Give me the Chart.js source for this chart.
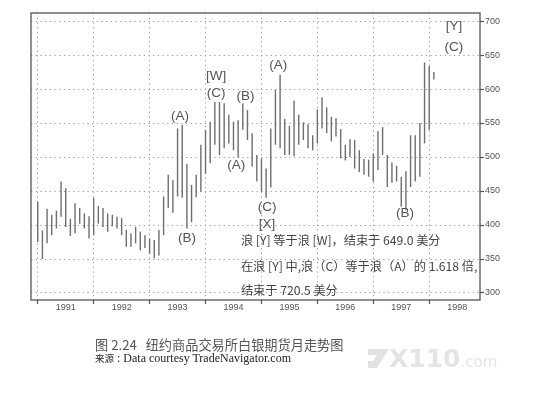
<!DOCTYPE html>
<html lang="zh">
<head>
    <meta charset="UTF-8">
    <title>纽约商品交易所白银期货月走势图</title>
    <script src="https://cdn.jsdelivr.net/npm/chart.js"></script>
    <style>
        body{
            margin: 0;
            background: #fff;
        }
        #wrap{
            position: relative;
            width: 537px;
            height: 403px;
            overflow: hidden;
        }
        #silverChart{
            position: absolute;
            left: 0;
            top: 0;
        }
        .caption{
            position: absolute;
            left: 95px;
            top: 338px;
            font: 13.2px/14px "Noto Sans CJK SC", sans-serif;
            color: #555;
            white-space: nowrap;
        }
        .source{
            position: absolute;
            left: 95px;
            top: 352px;
            font: 12px/12px "Liberation Serif", serif;
            color: #222;
            white-space: nowrap;
        }
        .source .cn{
            font: 9.5px/12px "Noto Sans CJK SC", sans-serif;
        }
        .mark{
            position: absolute;
            left: 368px;
            top: 345px;
            color: #e4e4e4;
            white-space: nowrap;
            font: bold 25px/28px "DejaVu Sans", sans-serif;
        }
        .mark .com{
            font: 15px "DejaVu Sans", sans-serif;
            color: #e6e6e6;
        }
    </style>
</head>
<body>
<div id="wrap">
    <canvas id="silverChart" width="537" height="403"></canvas>
    <div class="caption">图 2.24&nbsp;&nbsp;&nbsp;纽约商品交易所白银期货月走势图</div>
    <div class="source"><span class="cn">来源</span>&nbsp;: Data courtesy TradeNavigator.com</div>
    <div class="mark"><svg width="21" height="19" style="vertical-align:-1px"><polygon points="0,0 21,0 9,19 0,19 0,12 5,12 9,6 0,6" fill="#e2e2e2"/></svg>X110<span class="com">.com</span></div>
</div>

<script>
    // monthly bars, index 0 = Jan 1991 (values in cents)
    const highs = [434, 392, 424, 415, 421, 464, 454, 409, 432, 425, 417, 413,
                   440, 428, 425, 417, 415, 412, 410, 393, 388, 397, 390, 385,
                   380, 378, 393, 442, 474, 466, 542, 547, 490, 459, 474, 518,
                   540, 552, 581, 581, 579, 562, 552, 554, 579, 569, 535, 503,
                   498, 483, 542, 599, 621, 556, 546, 583, 562, 551, 548, 532,
                   570, 588, 573, 559, 557, 541, 518, 526, 525, 510, 497, 496,
                   505, 538, 544, 503, 492, 487, 471, 479, 532, 532, 550, 639,
                   634, 625];
    const lows  = [375, 350, 373, 385, 395, 412, 397, 384, 388, 402, 395, 380,
                   385, 402, 397, 390, 398, 395, 385, 368, 368, 373, 363, 366,
                   358, 351, 355, 385, 425, 418, 442, 440, 395, 404, 441, 449,
                   476, 491, 518, 503, 513, 520, 510, 500, 540, 525, 486, 464,
                   449, 440, 455, 518, 513, 503, 503, 501, 518, 525, 513, 510,
                   520, 542, 535, 523, 530, 498, 495, 500, 483, 478, 474, 471,
                   464, 481, 503, 456, 462, 464, 427, 422, 456, 464, 471, 520,
                   540, 614];

    const yearLabels = ['1991', '1992', '1993', '1994', '1995', '1996', '1997', '1998'];
    const yTicks = [300, 350, 400, 450, 500, 550, 600, 650, 700];

    // Elliott wave labels: text, month index, price
    const waveText  = ['(A)', '(B)', '[W]', '(C)', '(B)', '(A)', '(C)', '[X]', '(A)', '(B)', '[Y]', '(C)'];
    const waveMonth = [30.5, 32.0, 38.3, 38.3, 44.6, 42.6, 49.2, 49.2, 51.6, 78.8, 89.3, 89.3];
    const wavePrice = [560, 380, 619, 594, 590, 488, 426, 401, 635, 417, 693, 661];

    const notes = [
        '浪 [Y] 等于浪 [W]，结束于 649.0 美分',
        '在浪 [Y] 中,浪（C）等于浪（A）的 1.618 倍,',
        '结束于 720.5 美分'
    ];
    const noteMonth = 43.6;
    const notePrice = [377, 339, 304];

    const barData = highs.map((h, i) => ({ x: i, y: [lows[i], h] }));

    const labelPlugin = {
        id: 'labels',
        beforeDatasetsDraw(chart) {
            const a = chart.chartArea;
            const ctx = chart.ctx;
            ctx.save();
            ctx.strokeStyle = '#555';
            ctx.lineWidth = 1.3;
            ctx.strokeRect(a.left, a.top, a.right - a.left, a.bottom - a.top);
            ctx.restore();
        },
        afterDatasetsDraw(chart) {
            const ctx = chart.ctx;
            const xs = chart.scales.x;
            const ys = chart.scales.y;
            ctx.save();
            ctx.fillStyle = '#555';
            ctx.font = '13.5px "Liberation Sans", sans-serif';
            ctx.textAlign = 'center';
            ctx.textBaseline = 'middle';
            waveText.forEach((t, i) => {
                ctx.fillText(t, xs.getPixelForValue(waveMonth[i]), ys.getPixelForValue(wavePrice[i]));
            });
            ctx.fillStyle = '#444';
            ctx.font = '12.2px "Noto Sans CJK SC", sans-serif';
            ctx.textAlign = 'left';
            notes.forEach((t, i) => {
                ctx.fillText(t, xs.getPixelForValue(noteMonth), ys.getPixelForValue(notePrice[i]));
            });
            ctx.restore();
        }
    };

    const ctx = document.getElementById('silverChart').getContext('2d');
    const silverChart = new Chart(ctx, {
        type: 'bar',
        data: {
            datasets: [{
                data: barData,
                backgroundColor: '#6e6e6e',
                barThickness: 1.4,
                inflateAmount: 0
            }]
        },
        options: {
            responsive: false,
            animation: false,
            layout: { padding: { left: 31, top: 13, right: 0, bottom: 0 } },
            plugins: {
                legend: { display: false },
                tooltip: { enabled: false }
            },
            scales: {
                x: {
                    type: 'linear',
                    min: -1.45,
                    max: 94.9,
                    offset: false,
                    afterBuildTicks: (s) => {
                        s.ticks = [0, 6, 12, 18, 24, 30, 36, 42, 48, 54, 60, 66, 72, 78, 84, 90].map(v => ({ value: v }));
                    },
                    afterFit: (s) => { s.height = 103; },
                    border: { display: false, dash: [1.2, 3.5] },
                    grid: {
                        offset: false,
                        color: (c) => c.tick && c.tick.value % 12 === 0 ? '#999' : 'rgba(0,0,0,0)',
                        tickColor: (c) => c.tick && c.tick.value % 12 === 0 ? '#555' : 'rgba(0,0,0,0)',
                        tickBorderDash: [],
                        tickLength: 4,
                        tickWidth: 1.2
                    },
                    ticks: {
                        autoSkip: false,
                        maxRotation: 0,
                        padding: -2,
                        color: '#555',
                        font: { family: 'Liberation Sans', size: 9 },
                        callback: (v) => v % 12 === 6 ? yearLabels[(v - 6) / 12] : ''
                    }
                },
                y: {
                    position: 'right',
                    min: 289.7,
                    max: 711.8,
                    afterBuildTicks: (s) => {
                        s.ticks = yTicks.map(v => ({ value: v }));
                    },
                    afterFit: (s) => { s.width = 57; },
                    border: { display: false, dash: [1.2, 3.5] },
                    grid: {
                        color: '#999',
                        tickColor: '#555',
                        tickBorderDash: [],
                        tickLength: 4,
                        tickWidth: 1.2
                    },
                    ticks: {
                        padding: 1,
                        color: '#555',
                        font: { family: 'Liberation Sans', size: 9 }
                    }
                }
            }
        },
        plugins: [labelPlugin]
    });
</script>
</body>
</html>
